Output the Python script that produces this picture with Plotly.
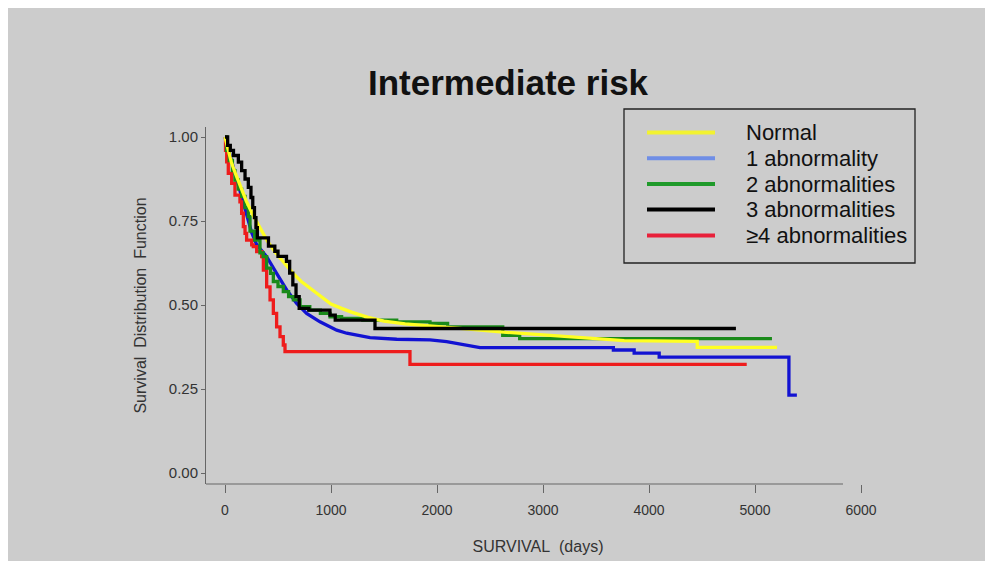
import plotly.graph_objects as go

# ---------------- data ----------------
series_names = ["Normal", "1 abnormality", "2 abnormalities", "3 abnormalities", "≥4 abnormalities"]

normal_days = [0, 25, 60, 100, 150, 200, 260, 320, 400, 480, 560, 640, 720, 800, 900,
               1000, 1100, 1200, 1350, 1500, 1700, 1900, 2100, 2300, 2600, 2900, 3200,
               3500, 3766, 4455, 4455, 5208]
normal_surv = [1.0, 0.965, 0.925, 0.89, 0.85, 0.81, 0.77, 0.735, 0.69, 0.655, 0.625, 0.595,
               0.57, 0.55, 0.525, 0.503, 0.49, 0.478, 0.463, 0.452, 0.444, 0.438, 0.433,
               0.428, 0.42, 0.413, 0.406, 0.40, 0.394, 0.392, 0.374, 0.374]

one_days = [0, 50, 100, 150, 200, 252, 299, 393, 487, 582, 676, 770, 896, 991, 1054, 1148,
            1274, 1368, 1620, 1934, 2091, 2248, 2406, 3664, 3664, 3860, 3860, 4096, 4096,
            5320, 5320, 5395]
one_surv = [1.0, 0.94, 0.885, 0.83, 0.775, 0.715, 0.68, 0.644, 0.594, 0.545, 0.505, 0.475,
            0.45, 0.435, 0.425, 0.416, 0.408, 0.403, 0.398, 0.396, 0.391, 0.381, 0.373, 0.373,
            0.366, 0.366, 0.357, 0.357, 0.345, 0.345, 0.232, 0.232]

two_days = [0, 15, 40, 70, 94, 125, 157, 189, 220, 236, 280, 330, 360, 393, 430, 456, 500,
            550, 600, 645, 708, 800, 900, 991, 1100, 1300, 1620, 1934, 2100, 2620, 2780, 5160]
two_surv = [1.0, 0.96, 0.93, 0.90, 0.872, 0.845, 0.823, 0.79, 0.763, 0.72, 0.693, 0.655,
            0.644, 0.61, 0.594, 0.57, 0.555, 0.54, 0.525, 0.515, 0.495, 0.485, 0.475, 0.465,
            0.46, 0.455, 0.45, 0.445, 0.435, 0.41, 0.40, 0.40]

three_days = [0, 25, 50, 80, 126, 157, 189, 220, 245, 262, 278, 292, 305, 410, 470, 500,
              580, 610, 640, 670, 700, 790, 990, 1040, 1415, 4820]
three_surv = [1.0, 0.975, 0.96, 0.945, 0.925, 0.90, 0.875, 0.85, 0.82, 0.79, 0.76, 0.73,
              0.70, 0.675, 0.66, 0.645, 0.63, 0.595, 0.56, 0.525, 0.49, 0.485, 0.47, 0.455,
              0.43, 0.43]

four_days = [0, 5, 16, 31, 63, 94, 141, 157, 173, 189, 204, 252, 267, 299, 346, 362, 393,
             425, 456, 487, 519, 550, 566, 1745, 4922]
four_surv = [1.0, 0.96, 0.926, 0.892, 0.862, 0.827, 0.807, 0.773, 0.733, 0.713, 0.693, 0.679,
             0.674, 0.659, 0.644, 0.604, 0.554, 0.515, 0.475, 0.435, 0.406, 0.381, 0.361,
             0.323, 0.323]

x_ticks = [0, 1000, 2000, 3000, 4000, 5000, 6000]
y_ticks = [0.0, 0.25, 0.5, 0.75, 1.0]
y_tick_labels = ["0.00", "0.25", "0.50", "0.75", "1.00"]

# ---------------- styles ----------------
curve_colors = ["#ffff22", "#1212d2", "#1a8a1a", "#000000", "#ee1c1c"]
legend_colors = ["#f2f230", "#6f8ee6", "#1f9a2a", "#000000", "#e8203a"]
line_shapes = ["linear", "linear", "hv", "hv", "hv"]
all_days = [normal_days, one_days, two_days, three_days, four_days]
all_surv = [normal_surv, one_surv, two_surv, three_surv, four_surv]
draw_order = [1, 4, 2, 0, 3]

fig = go.Figure()
for i in draw_order:
    fig.add_trace(go.Scatter(
        x=all_days[i], y=all_surv[i], mode="lines", name=series_names[i],
        line=dict(color=curve_colors[i], width=3.3, shape=line_shapes[i]),
        showlegend=False,
    ))

GRAY = "#cccccc"
OFF = 8                      # the page body adds an 8px margin
W, H = 993 - OFF, 569 - OFF
L, R, T, B = 206, 870, 127, 484   # plot area in reference-page pixels


def px(xp):
    return (xp - L) / (R - L)


def py(yp):
    return (B - yp) / (B - T)


shapes = [
    dict(type="rect", xref="paper", yref="paper", x0=px(0), x1=px(985), y0=py(561), y1=py(0),
         fillcolor=GRAY, line=dict(width=0), layer="below"),
    dict(type="line", xref="paper", yref="paper", x0=0, x1=px(843), y0=0, y1=0,
         line=dict(color="#666666", width=1)),
    dict(type="rect", xref="paper", yref="paper", x0=px(624), x1=px(915), y0=py(263), y1=py(109),
         line=dict(color="#222222", width=1.3), fillcolor="rgba(0,0,0,0)"),
]

annotations = []
row_y = [132.5, 158.3, 184, 209.5, 235.5]
for i, name in enumerate(series_names):
    shapes.append(dict(type="line", xref="paper", yref="paper", x0=px(647), x1=px(715),
                       y0=py(row_y[i]), y1=py(row_y[i]),
                       line=dict(color=legend_colors[i], width=4)))
    annotations.append(dict(xref="paper", yref="paper", x=px(744), y=py(row_y[i]),
                            xanchor="left", yanchor="middle", showarrow=False, text=name,
                            font=dict(family="Liberation Sans, Arial, sans-serif", size=22,
                                      color="#111111")))

fig.update_layout(
    width=W, height=H, autosize=False,
    margin=dict(l=L - OFF, r=W - (R - OFF), t=T - OFF, b=H - (B - OFF), pad=0),
    paper_bgcolor="white", plot_bgcolor=GRAY,
    title=dict(text="Intermediate risk", x=(508 - OFF) / W, xref="container", xanchor="center",
               y=1 - (83 - OFF) / H, yref="container", yanchor="middle",
               font=dict(family="Liberation Sans, Arial, sans-serif",
                         size=35, color="#111111", weight="bold")),
    xaxis=dict(range=[(L - 225) / 0.106, (R - 225) / 0.106], tickvals=x_ticks,
               ticks="outside", ticklen=8, tickcolor="#666666", showline=False,
               showgrid=False, zeroline=False, ticklabelstandoff=5,
               tickfont=dict(family="Liberation Sans, Arial, sans-serif", size=14, color="#333333"),
               title=dict(text="SURVIVAL\u00a0 (days)", standoff=24,
                          font=dict(family="Liberation Sans, Arial, sans-serif", size=16,
                                    color="#333333"))),
    yaxis=dict(range=[(473 - B) / 336, (473 - T) / 336], tickvals=y_ticks, ticktext=y_tick_labels,
               ticks="outside", ticklen=4, tickcolor="#666666", showline=True,
               linecolor="#666666", linewidth=1, showgrid=False, zeroline=False,
               tickfont=dict(family="Liberation Sans, Arial, sans-serif", size=15, color="#333333"),
               title=dict(text="Survival\u00a0 Distribution\u00a0 Function", standoff=18,
                          font=dict(family="Liberation Sans, Arial, sans-serif", size=16,
                                    color="#333333"))),
    shapes=shapes, annotations=annotations,
)

fig.write_html("out.html")
